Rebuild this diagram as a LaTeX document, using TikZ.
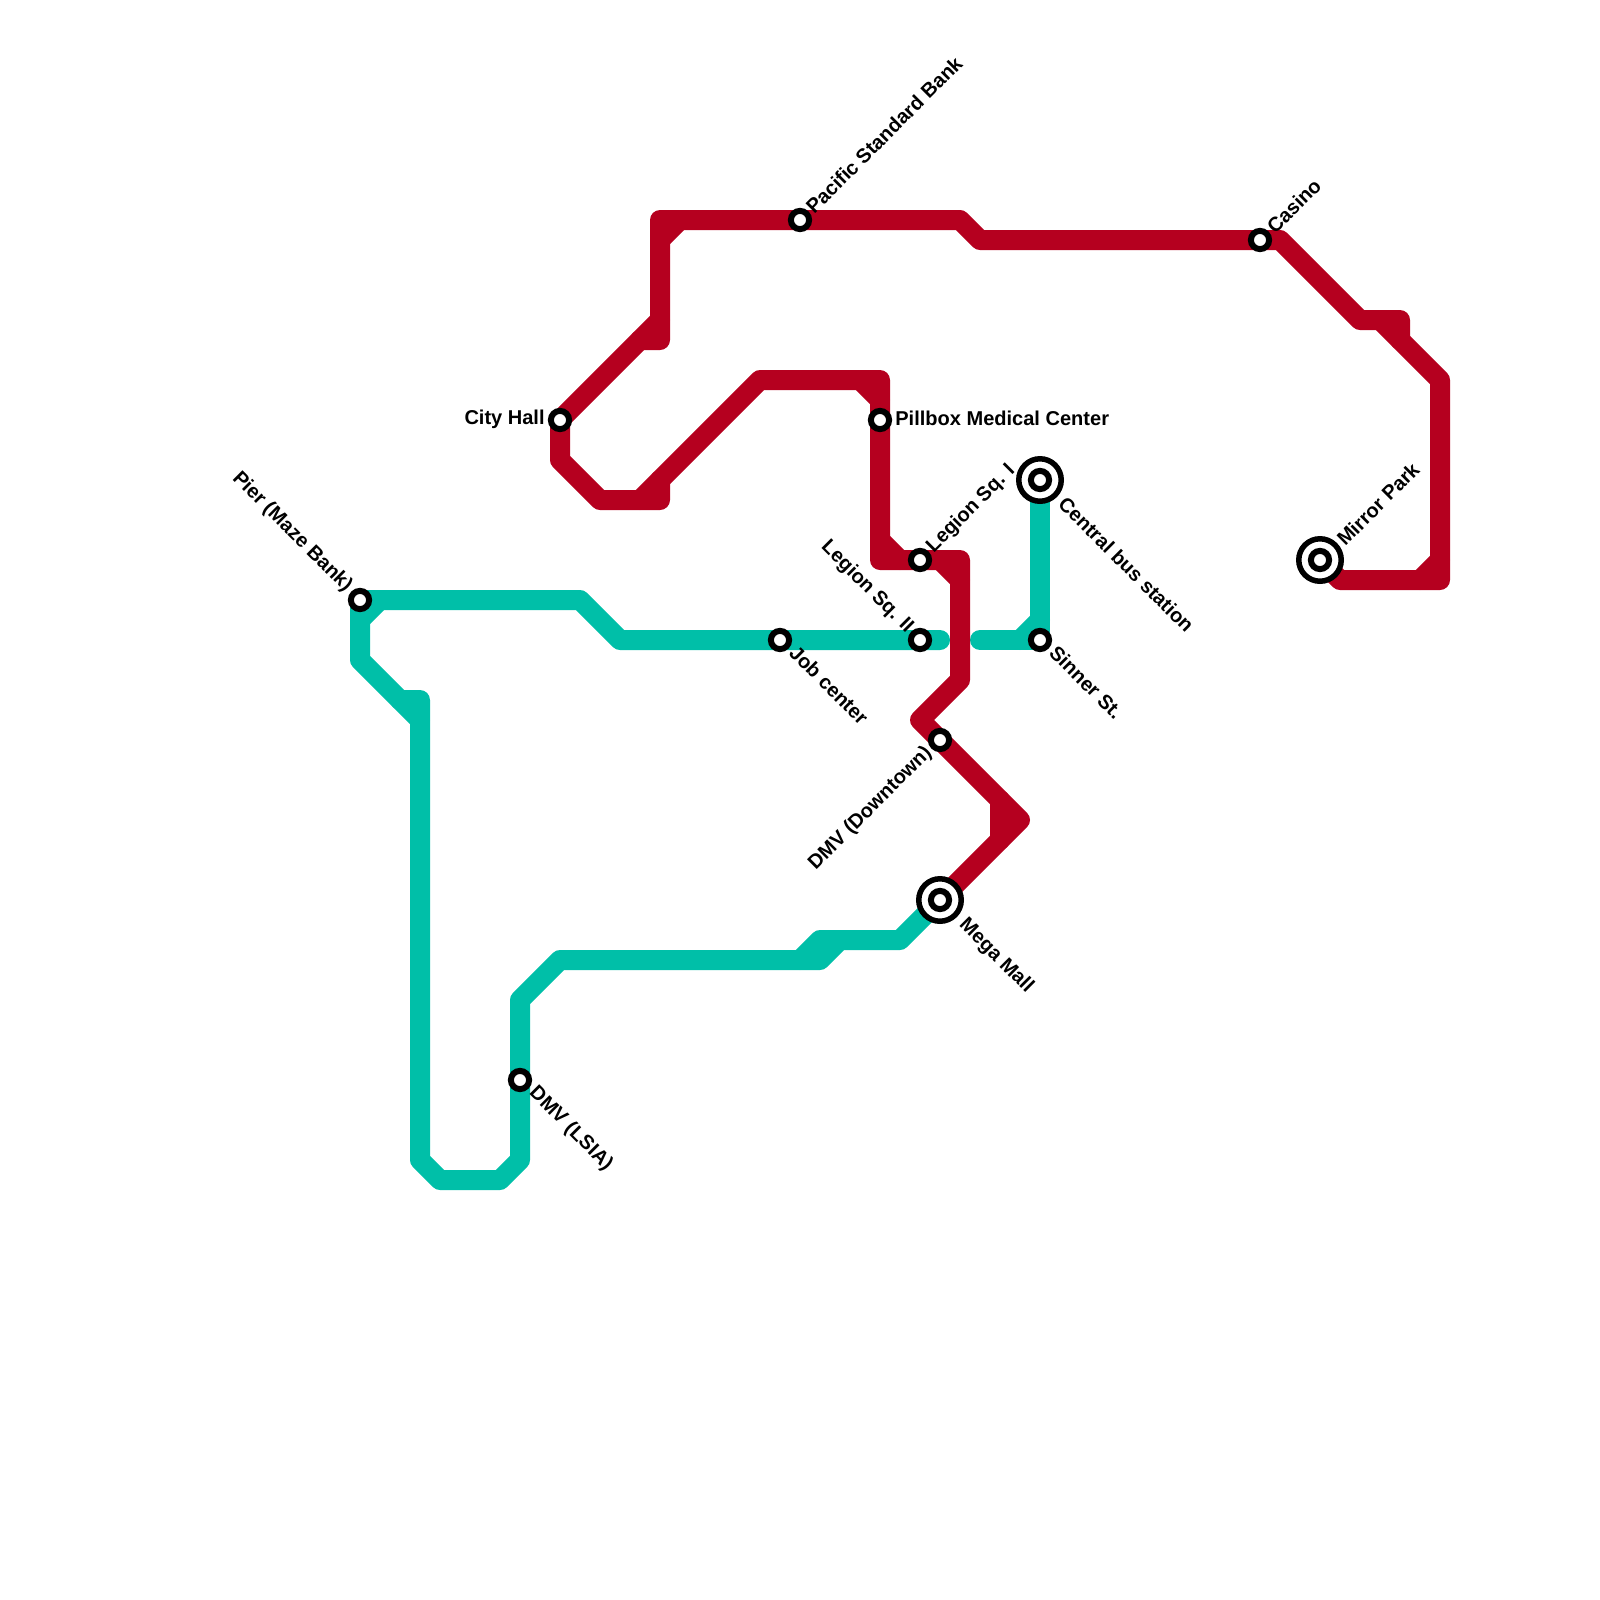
\documentclass[tikz,border=0pt]{standalone}
\usepackage{fontspec}
\setmainfont{Liberation Sans}
\usetikzlibrary{backgrounds}
\definecolor{redline}{HTML}{B5001F}
\definecolor{tealline}{HTML}{00BFA8}
\tikzset{
  route/.style={line width=0.4cm, line cap=round, line join=round},
  stop/.style={circle, draw=black, fill=white, line width=0.12cm, minimum size=0.365cm, inner sep=0pt, outer sep=0pt},
  hubring/.style={circle, draw=black, fill=white, line width=0.11cm, minimum size=0.85cm, inner sep=0pt, outer sep=0pt},
  stoplabel/.style={inner sep=0pt, font=\fontsize{11.4pt}{13pt}\selectfont\bfseries},
}
\begin{document}
\begin{tikzpicture}[x=0.02cm,y=-0.02cm]
  \useasboundingbox (0,0) rectangle (1600,1600);

  % Interchange rings
  \node[hubring] (central-ring) at (1040,480) {};
  \node[hubring] (mirror-ring) at (1320,560) {};
  \node[hubring] (mega-ring) at (940,900) {};

  % Stations: (name/x/y/label dx/label dy/rotation/anchor/text)
  \foreach \name/\x/\y/\dx/\dy/\rot/\anc/\lab in {%
    pier/360/600/-11/-11/-45/east/Pier (Maze Bank),
    cityhall/560/420/-15/-1/0/east/City Hall,
    pacific/800/220/9/-10/45/west/Pacific Standard Bank,
    pillbox/880/420/15/-2/0/west/Pillbox Medical Center,
    legionA/920/560/10/-10/45/west/Legion Sq. I,
    legionB/920/640/-10/-10/-45/east/Legion Sq. II,
    job/780/640/13/9/-45/west/Job center,
    sinner/1040/640/13/9/-45/west/Sinner St.,
    central/1040/480/22/20/-45/west/Central bus station,
    casino/1260/240/10/-10/45/west/Casino,
    mirror/1320/560/20/-18/45/west/Mirror Park,
    dmvdown/940/740/-11/10/45/east/DMV (Downtown),
    mega/940/900/22/22/-45/west/Mega Mall,
    dmvlsia/520/1080/12/10/-45/west/DMV (LSIA)%
  } {%
    \node[stop] (\name) at (\x,\y) {};
    \node[stoplabel, rotate=\rot, anchor=\anc] (\name-label) at (\x+\dx,\y+\dy) {\lab};
  }

  \begin{scope}[on background layer]
    % Teal line
    \draw[route, tealline] (pier.center) -- (580,600) -- (620,640) -- (job.center) -- (legionB.center) -- (940,640);
    \draw[route, tealline] (pier.center) -- (360,660) -- (420,720);
    \draw[route, tealline] (360,620) -- (380,600);
    \draw[route, tealline] (400,700) -- (420,700) -- (420,1160) -- (440,1180) -- (500,1180) -- (520,1160)
      -- (dmvlsia.center) -- (520,1000) -- (560,960) -- (820,960) -- (840,940) -- (900,940) -- (mega.center);
    \draw[route, tealline] (800,960) -- (820,940) -- (840,940);
    \draw[route, tealline] (980,640) -- (sinner.center) -- (central.center);
    \draw[route, tealline] (1020,640) -- (1040,620);

    % Red line
    \draw[route, redline] (mirror.center) -- (1340,580) -- (1440,580) -- (1440,380) -- (1380,320);
    \draw[route, redline] (1420,580) -- (1440,560);
    \draw[route, redline] (1400,340) -- (1400,320) -- (1360,320) -- (1280,240) -- (casino.center) -- (980,240)
      -- (960,220) -- (pacific.center) -- (660,220) -- (660,340) -- (640,340);
    \draw[route, redline] (660,240) -- (680,220);
    \draw[route, redline] (660,320) -- (cityhall.center) -- (560,460) -- (600,500) -- (660,500) -- (660,480);
    \draw[route, redline] (640,500) -- (760,380) -- (880,380) -- (pillbox.center) -- (880,560) -- (legionA.center)
      -- (960,560) -- (960,680) -- (920,720) -- (dmvdown.center) -- (1020,820) -- (mega.center);
    \draw[route, redline] (860,380) -- (880,400);
    \draw[route, redline] (880,540) -- (900,560);
    \draw[route, redline] (940,560) -- (960,580);
    \draw[route, redline] (1000,800) -- (1000,840);
  \end{scope}
\end{tikzpicture}
\end{document}
